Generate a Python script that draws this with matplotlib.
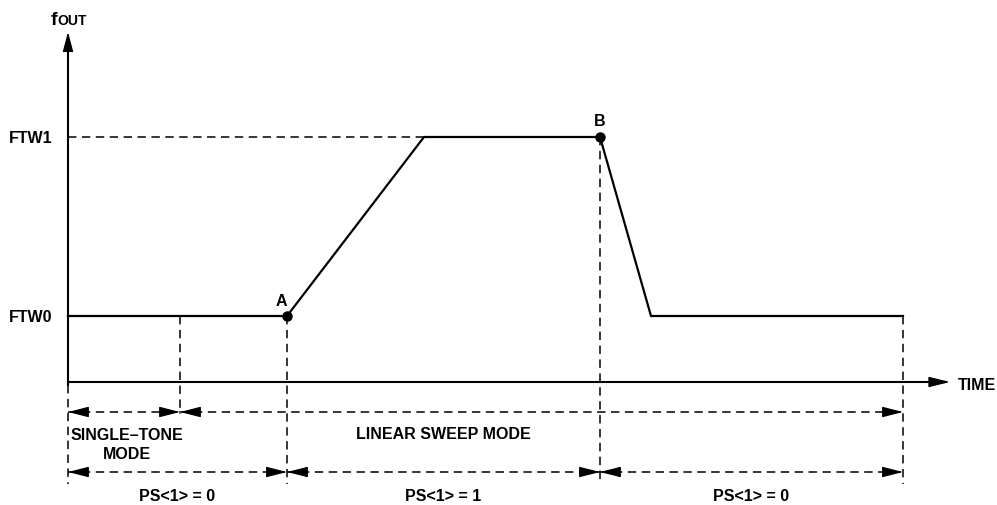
import matplotlib.pyplot as plt

plt.rcParams['font.family'] = ['Liberation Sans', 'DejaVu Sans']
plt.rcParams['font.weight'] = 'bold'

# drawing units: time from the origin, frequency above the time axis
ftw_levels = [66, 245]
ftw_labels = ['FTW0', 'FTW1']
sweep_t = [0, 219, 356, 532, 583, 835]
sweep_f = [66, 66, 245, 245, 66, 66]
event_t = [219, 532]
event_f = [66, 245]
event_labels = ['A', 'B']
time_end = 882
freq_top = 350

mode_edges = [0, 112, 835]
mode_labels = ['SINGLE\u2013TONE\nMODE', 'LINEAR SWEEP MODE']
mode_label_t = [59, 375]
ps_edges = [0, 219, 532, 835]
ps_labels = ['PS<1> = 0', 'PS<1> = 1', 'PS<1> = 0']

row_mode = -30
row_ps = -90
guide_bottom = -102

fig = plt.figure(figsize=(9.97, 5.06), dpi=100)
ax = fig.add_axes([0, 0, 1, 1])
ax.set_xlim(-68, 929)
ax.set_ylim(-123, 383)
ax.axis('off')

dash = (0, (5.5, 3.6))
fs = 11.5


def head(x, y, dx, dy, hl=1.3, hw=0.33, lw=0.8):
    ax.annotate('', xy=(x, y), xytext=(dx, dy), textcoords='offset points',
                arrowprops=dict(arrowstyle=f'-|>,head_length={hl},head_width={hw}',
                                mutation_scale=10, color='black', lw=lw,
                                shrinkA=0, shrinkB=0))


# axes with arrows
ax.plot([0, time_end - 5], [0, 0], color='black', lw=1.5)
head(time_end, 0, -13, 0, hl=1.3, hw=0.32, lw=1)
ax.plot([0, 0], [-3, freq_top - 5], color='black', lw=1.5)
head(0, freq_top, 0, -12, hl=1.2, hw=0.32, lw=1)

ax.text(-17, 358, 'f', fontsize=14, ha='left', va='baseline')
ax.text(-10.5, 358, 'OUT', fontsize=10, ha='left', va='baseline')
ax.text(time_end + 8, -3, 'TIME', fontsize=fs, ha='left', va='center')

for lvl, lab in zip(ftw_levels, ftw_labels):
    ax.text(-16, lvl, lab, fontsize=fs, ha='right', va='center')

# frequency trace
ax.plot(sweep_t, sweep_f, color='black', lw=1.6, solid_joinstyle='miter')
ax.plot(event_t, event_f, 'o', color='black', ms=6.5)
ax.text(event_t[0] - 6, event_f[0] + 15, event_labels[0], fontsize=fs, ha='center', va='center')
ax.text(event_t[1], event_f[1] + 17, event_labels[1], fontsize=fs, ha='center', va='center')

# guides
ax.plot([0, sweep_t[2]], [ftw_levels[1]] * 2, color='black', lw=1.1, ls=dash)
ax.plot([0, 0], [-3, guide_bottom], color='black', lw=1.1, ls=dash)
ax.plot([mode_edges[1]] * 2, [ftw_levels[0], row_mode - 2], color='black', lw=1.1, ls=dash)
ax.plot([event_t[0]] * 2, [event_f[0], guide_bottom], color='black', lw=1.1, ls=dash)
ax.plot([event_t[1]] * 2, [event_f[1], guide_bottom], color='black', lw=1.1, ls=dash)
ax.plot([sweep_t[-1]] * 2, [sweep_f[-1], guide_bottom], color='black', lw=1.1, ls=dash)

# span arrows
for edges, row in [(mode_edges, row_mode), (ps_edges, row_ps)]:
    for a, b in zip(edges[:-1], edges[1:]):
        ax.plot([a, b], [row, row], color='black', lw=1.1, ls=dash)
        head(a, row, 13, 0)
        head(b, row, -13, 0)

ax.text(mode_label_t[0], -62, mode_labels[0], fontsize=fs, ha='center', va='center',
        linespacing=1.3)
ax.text(mode_label_t[1], -52, mode_labels[1], fontsize=fs, ha='center', va='center')
for a, b, lab in zip(ps_edges[:-1], ps_edges[1:], ps_labels):
    ax.text((a + b) / 2, -114, lab, fontsize=fs, ha='center', va='center')

fig.savefig('out.png', dpi=100)
